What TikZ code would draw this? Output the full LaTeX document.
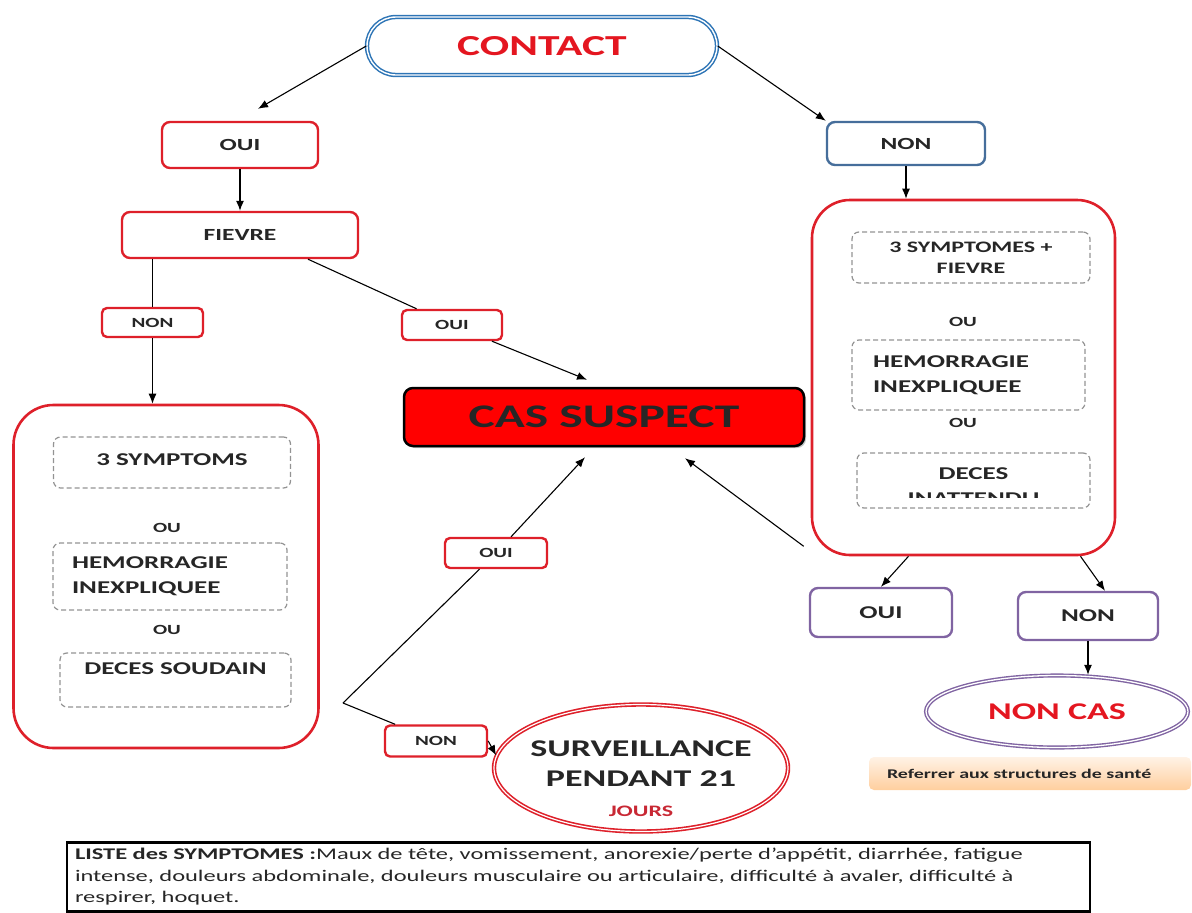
\documentclass[tikz,border=0pt]{standalone}
\usepackage{fontspec}
\setmainfont{Carlito}[FakeStretch=1.5]
\usetikzlibrary{arrows.meta,shapes.geometric,shadows}

\definecolor{boxred}{RGB}{222,32,42}
\definecolor{textred}{RGB}{228,22,32}
\definecolor{joursred}{RGB}{200,40,52}
\definecolor{contactblue}{RGB}{46,117,182}
\definecolor{nonblue}{RGB}{70,110,155}
\definecolor{boxpurple}{RGB}{128,100,162}
\definecolor{ink}{RGB}{38,38,38}

\begin{document}
\begin{tikzpicture}[x=1pt,y=-1pt,text=ink,
  box/.style={draw=boxred,line width=2.4pt,rounded corners=8pt,fill=white,
    inner sep=0pt,font=\bfseries\fontsize{17}{20}\selectfont},
  tag/.style={box,rounded corners=5pt,font=\bfseries\fontsize{14}{16}\selectfont},
  pbox/.style={box,draw=boxpurple,font=\bfseries\fontsize{18}{20}\selectfont},
  bigbox/.style={draw=boxred,line width=2.6pt,rounded corners=40pt,inner sep=0pt},
  dashbox/.style={draw=gray!85,dash pattern=on 5pt off 3pt,line width=1.2pt,
    rounded corners=7pt,inner sep=0pt,font=\bfseries\fontsize{18}{25}\selectfont},
  orword/.style={font=\bfseries\fontsize{14}{16}\selectfont},
  link/.style={line width=1.1pt},
  arr/.style={link,-{Latex[length=10pt,width=8pt]}}]

  \useasboundingbox (0,0) rectangle (1192,913);

  % top
  \node[draw=contactblue,double=white,line width=1.5pt,double distance=1.4pt,
    rounded corners=29pt,minimum width=350pt,minimum height=58pt,
    text=textred,font=\bfseries\fontsize{29}{31}\selectfont] (contact) at (542,46) {CONTACT};

  \node[box,minimum width=156pt,minimum height=46pt] (ouiA) at (240,145) {OUI};
  \node[box,minimum width=236pt,minimum height=46pt] (fievre) at (240,235) {FIEVRE};
  \node[box,draw=nonblue,minimum width=158pt,minimum height=43pt] (nonB) at (906,143.5) {NON};

  \node[tag,minimum width=101pt,minimum height=29pt] (nonA) at (152.5,322.5) {NON};
  \node[tag,minimum width=100pt,minimum height=30pt] (ouiB) at (452,325) {OUI};

  \node[draw=black,line width=2.5pt,fill=red,rounded corners=9pt,
    minimum width=400pt,minimum height=58pt,
    drop shadow={opacity=0.45,shadow xshift=2pt,shadow yshift=-2pt},
    text=black!85,font=\bfseries\fontsize{33}{35}\selectfont] (cas) at (604,417) {CAS SUSPECT};

  % left column
  \node[bigbox,minimum width=305pt,minimum height=343pt] (leftbox) at (166,576.5) {};
  \node[dashbox,minimum width=237pt,minimum height=51pt,
    text height=13pt,text depth=8pt] (dashA) at (172,462.5) {3 SYMPTOMS};
  \node[orword] (ouL1) at (167,528) {OU};
  \node[dashbox,minimum width=234pt,minimum height=67pt,align=left,
    text width=196pt,inner xsep=19pt] (dashB) at (170,576.5) {HEMORRAGIE\\INEXPLIQUEE};
  \node[orword] (ouL2) at (167,630) {OU};
  \node[dashbox,minimum width=231pt,minimum height=54pt,
    text height=13pt,text depth=25pt] (dashC) at (175.5,680) {DECES SOUDAIN};

  % right column
  \node[bigbox,rounded corners=38pt,minimum width=303pt,minimum height=355pt] (rightbox) at (963.5,377.5) {};
  \node[dashbox,minimum width=238pt,minimum height=51pt,align=center,
    font=\bfseries\fontsize{16}{21}\selectfont] (dashRA) at (971,257.5) {3 SYMPTOMES +\\FIEVRE};
  \node[orword] (ouR1) at (963,322) {OU};
  \node[dashbox,minimum width=233pt,minimum height=70pt,align=left,
    text width=191pt,inner xsep=21pt] (dashRB) at (968.5,375) {HEMORRAGIE\\INEXPLIQUEE};
  \node[orword] (ouR2) at (963,423) {OU};
  \node[dashbox,minimum width=233pt,minimum height=55pt] (dashRC) at (973.5,480.5) {};
  \begin{scope}
    \clip (857,453) rectangle (1090,497.5);
    \node[align=center,font=\bfseries\fontsize{18}{25}\selectfont] (decesR) at (973.5,486) {DECES\\INATTENDU};
  \end{scope}

  \node[pbox,minimum width=142pt,minimum height=49pt] (ouiC) at (881,612.5) {OUI};
  \node[pbox,minimum width=140pt,minimum height=48pt] (nonC) at (1088,616) {NON};

  \node[ellipse,draw=boxpurple,double=white,line width=1.4pt,double distance=1.3pt,
    minimum width=262pt,minimum height=72pt,inner sep=0pt,
    text=textred,font=\bfseries\fontsize{24}{26}\selectfont] (noncas) at (1057,711.5) {NON CAS};

  \node[rounded corners=5pt,top color=orange!10,bottom color=orange!38,
    minimum width=322pt,minimum height=33pt,text width=286pt,inner xsep=18pt,align=left,
    font=\bfseries\fontsize{13.3}{15}\selectfont] (refer) at (1030,773.5) {Referrer aux structures de santé};

  % bottom
  \coordinate (jct) at (343,703);
  \node[tag,minimum width=102pt,minimum height=30pt] (ouiD) at (496,553) {OUI};
  \node[tag,minimum width=102pt,minimum height=31pt] (nonD) at (436,741) {NON};

  \node[ellipse,draw=boxred,double=white,line width=1.6pt,double distance=1.2pt,
    minimum width=294pt,minimum height=127pt,inner xsep=-16pt,inner ysep=-12pt,align=center,
    font=\bfseries\fontsize{24}{30}\selectfont] (surv) at (641,768)
    {\rule{0pt}{37pt}SURVEILLANCE\\PENDANT 21\\{\color{joursred}\fontsize{16}{18}\selectfont JOURS}};

  \node[draw=black,line width=2.5pt,minimum width=1023pt,minimum height=69pt,
    text width=1007pt,inner xsep=8pt,align=left,
    font=\fontsize{16.3}{21.5}\selectfont] (liste) at (578.5,877)
    {\textbf{LISTE des SYMPTOMES :}Maux de tête, vomissement, anorexie/perte d'appétit, diarrhée, fatigue\\
     intense, douleurs abdominale, douleurs musculaire ou articulaire, difficulté à avaler, difficulté à\\
     respirer, hoquet.};

  % connectors
  \draw[arr] (contact.west) -- ([xshift=18pt,yshift=12pt]ouiA.north);
  \draw[arr] (contact.east) -- (nonB.north west);
  \draw[arr] (ouiA.south) -- (fievre.north);
  \draw[link] (nonA |- fievre.south) -- (nonA.north);
  \draw[arr] (nonA.south) -- (nonA |- leftbox.north);
  \draw[link] ([xshift=68pt]fievre.south) -- (ouiB);
  \draw[arr] (ouiB) -- ([xshift=-17pt,yshift=7pt]cas.north);
  \draw[arr] (nonB.south) -- (nonB.south |- rightbox.north);
  \draw[arr] ([xshift=-7pt,yshift=10pt]rightbox.south west) -- ([xshift=81pt,yshift=-11pt]cas.south);
  \draw[arr] ([xshift=-55pt]rightbox.south) -- (ouiC.north);
  \draw[arr] ([xshift=117pt]rightbox.south) -- ([xshift=17pt]nonC.north);
  \draw[arr] (nonC.south) -- (nonC.south |- noncas.north);
  \draw[link] (jct) -- (ouiD);
  \draw[arr] (ouiD) -- ([xshift=-19pt,yshift=-10pt]cas.south);
  \draw[link] (jct) -- (nonD);
  \draw[arr] (nonD.east) -- (surv.175);

\end{tikzpicture}
\end{document}
